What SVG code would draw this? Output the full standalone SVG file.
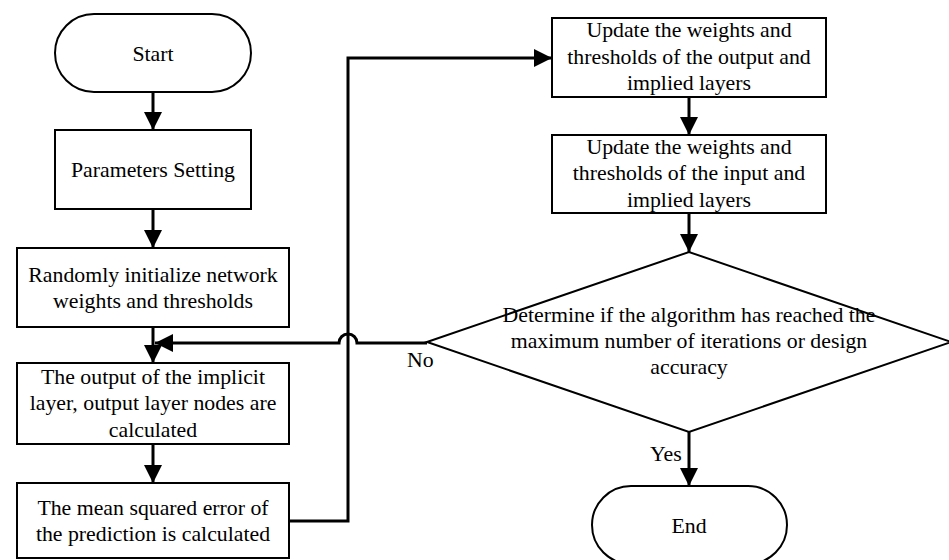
<svg xmlns="http://www.w3.org/2000/svg" width="949" height="560" viewBox="0 0 949 560">
<style>
.shape{fill:#fff;stroke:#000;stroke-width:2}
.conn{fill:none;stroke:#000;stroke-width:3}
text{font-family:"Liberation Serif","Times New Roman",serif;font-size:21.8px;fill:#000;text-anchor:middle}
.lbl{text-anchor:start}
</style>
<defs>
<marker id="arr" viewBox="0 0 18 18" refX="18" refY="9" markerWidth="18" markerHeight="18" markerUnits="userSpaceOnUse" orient="auto">
<path d="M0,0 L18,9 L0,18 Z" fill="#000"/>
</marker>
</defs>
<rect width="949" height="560" fill="#fff"/>
<g id="connectors">
<path class="conn" d="M153,92 V130" marker-end="url(#arr)"/>
<path class="conn" d="M153,209 V248" marker-end="url(#arr)"/>
<path class="conn" d="M153,327 V363" marker-end="url(#arr)"/>
<path class="conn" d="M153,444 V483" marker-end="url(#arr)"/>
<path class="conn" d="M289,521 H348 V58 H552" marker-end="url(#arr)"/>
<path class="conn" d="M689,97 V135" marker-end="url(#arr)"/>
<path class="conn" d="M689,213 V252" marker-end="url(#arr)"/>
<path class="conn" d="M689,432 V486" marker-end="url(#arr)"/>
<path class="conn" d="M427,343 H357 A9,9 0 0 0 339,343 H155" marker-end="url(#arr)"/>
<text class="lbl" x="407" y="367">No</text>
<text class="lbl" x="650" y="461">Yes</text>
</g>
<g id="start">
<rect class="shape" x="55" y="14" width="196" height="78" rx="39" ry="39"/>
<text x="153" y="61">Start</text>
</g>
<g id="params">
<rect class="shape" x="55" y="130" width="196" height="79"/>
<text x="153" y="177">Parameters Setting</text>
</g>
<g id="init">
<rect class="shape" x="17" y="248" width="272" height="79"/>
<text x="153" y="282">Randomly initialize network</text>
<text x="153" y="308">weights and thresholds</text>
</g>
<g id="output">
<rect class="shape" x="17" y="363" width="272" height="81"/>
<text x="153" y="384">The output of the implicit</text>
<text x="153" y="410">layer, output layer nodes are</text>
<text x="153" y="437">calculated</text>
</g>
<g id="mse">
<rect class="shape" x="17" y="483" width="272" height="75"/>
<text x="153" y="515">The mean squared error of</text>
<text x="153" y="541">the prediction is calculated</text>
</g>
<g id="update1">
<rect class="shape" x="552" y="18" width="274" height="79"/>
<text x="689" y="37">Update the weights and</text>
<text x="689" y="64">thresholds of the output and</text>
<text x="689" y="90">implied layers</text>
</g>
<g id="update2">
<rect class="shape" x="552" y="135" width="274" height="78"/>
<text x="689" y="154">Update the weights and</text>
<text x="689" y="180">thresholds of the input and</text>
<text x="689" y="207">implied layers</text>
</g>
<g id="decision">
<polygon class="shape" points="427,342 689,252 951,342 689,432"/>
<text x="689" y="322">Determine if the algorithm has reached the</text>
<text x="689" y="348">maximum number of iterations or design</text>
<text x="689" y="374">accuracy</text>
</g>
<g id="end">
<rect class="shape" x="592" y="486" width="195" height="78" rx="39" ry="39"/>
<text x="689" y="533">End</text>
</g>
</svg>
